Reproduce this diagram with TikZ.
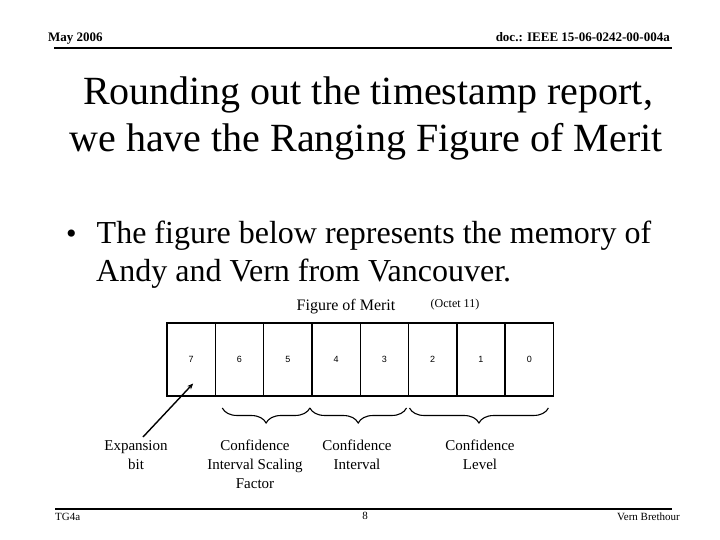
\documentclass[tikz,border=0pt]{standalone}
\usepackage{fontspec}
\setmainfont{Liberation Serif}
\newfontfamily\cellfont{Liberation Sans}
\usetikzlibrary{positioning}
\usetikzlibrary{decorations.pathreplacing}
\usetikzlibrary{arrows.meta}
\tikzset{
    bitcell/.style={
        draw,
        line width=1.4pt,
        minimum width=48.3pt,
        minimum height=73pt,
        inner sep=0pt,
        outer sep=0pt,
        font=\cellfont\fontsize{9}{9}\selectfont
    },
    % braces under the bit fields
    fieldbrace/.style={
        decorate,
        decoration={brace,mirror,amplitude=15pt},
        line width=1.1pt
    },
    fieldlabel/.style={
        align=center,
        inner sep=0pt,
        anchor=north,
        font=\fontsize{15}{19}\selectfont
    },
    slideline/.style={line width=2pt},
    pointarrow/.style={
        line width=1.4pt,
        -{Stealth[length=6pt,width=5pt]}
    }
}

\begin{document}
\begin{tikzpicture}[x=1pt,y=-1pt]
\useasboundingbox (0,0) rectangle (720,540);

% ===================== header / footer =====================
\node[anchor=base west,inner sep=0pt,font=\bfseries\fontsize{13}{13}\selectfont] (date) at (48,42) {May 2006};
\node[anchor=base east,inner sep=0pt,font=\bfseries\fontsize{13}{13}\selectfont] (docnum) at (670,42) {doc.: IEEE 15-06-0242-00-004a};
\draw[slideline] (54,47.7) -- (672,47.7);

\draw[slideline] (55,509.3) -- (672,509.3);
\node[anchor=base west,inner sep=0pt,font=\fontsize{11}{11}\selectfont] (group) at (55,520.5) {TG4a};
\node[anchor=base,inner sep=0pt,font=\fontsize{11}{11}\selectfont] (pagenum) at (365,519.5) {8};
\node[anchor=base east,inner sep=0pt,font=\fontsize{11}{11}\selectfont] (author) at (680,520.5) {Vern Brethour};

% ===================== title =====================
\node[anchor=base,inner sep=0pt,font=\fontsize{40}{40}\selectfont] (titleA) at (368,105) {Rounding out the timestamp report,};
\node[anchor=base,inner sep=0pt,font=\fontsize{40}{40}\selectfont] (titleB) at (366,151.7) {we have the Ranging Figure of Merit};

% ===================== bullet =====================
\node[anchor=base,inner sep=0pt,font=\fontsize{30}{30}\selectfont] (dot) at (71.5,243.3) {•};
\node[anchor=base west,inner sep=0pt,font=\fontsize{32}{32}\selectfont] (textA) at (96.5,243.3) {The figure below represents the memory of};
\node[anchor=base west,inner sep=0pt,font=\fontsize{32}{32}\selectfont] (textB) at (96,281.7) {Andy and Vern from Vancouver.};

% ===================== octet =====================
\node[anchor=base,inner sep=0pt,font=\fontsize{16}{16}\selectfont] (fom) at (346,310) {Figure of Merit};
\node[anchor=base,inner sep=0pt,font=\fontsize{12}{12}\selectfont] (octet) at (455,307) {(Octet 11)};

\foreach \b [count=\k from 0] in {7,6,5,4,3,2,1,0}
    \node[bitcell] (b\b) at ({191.15+48.3*\k},359.5) {\b};

%braces
\draw[fieldbrace] ([xshift=7pt,yshift=-12pt]b6.south west) -- ([xshift=-2pt,yshift=-12pt]b5.south east);
\draw[fieldbrace] ([xshift=-2pt,yshift=-12pt]b4.south west) -- ([xshift=-2pt,yshift=-12pt]b3.south east);
\draw[fieldbrace] ([xshift=1pt,yshift=-12pt]b2.south west) -- ([xshift=-5pt,yshift=-12pt]b0.south east);

% labels
\node[fieldlabel] (expbit) at (136,440) {Expansion\\bit};
\node[fieldlabel] (cisf) at (255,440) {Confidence\\Interval Scaling\\Factor};
\node[fieldlabel] (cint) at (357,440) {Confidence\\Interval};
\node[fieldlabel] (clev) at (480,440) {Confidence\\Level};

\draw[pointarrow] ([xshift=7pt,yshift=3pt]expbit.north) -- ([xshift=2pt,yshift=-24pt]b7.center);

\end{tikzpicture}
\end{document}
